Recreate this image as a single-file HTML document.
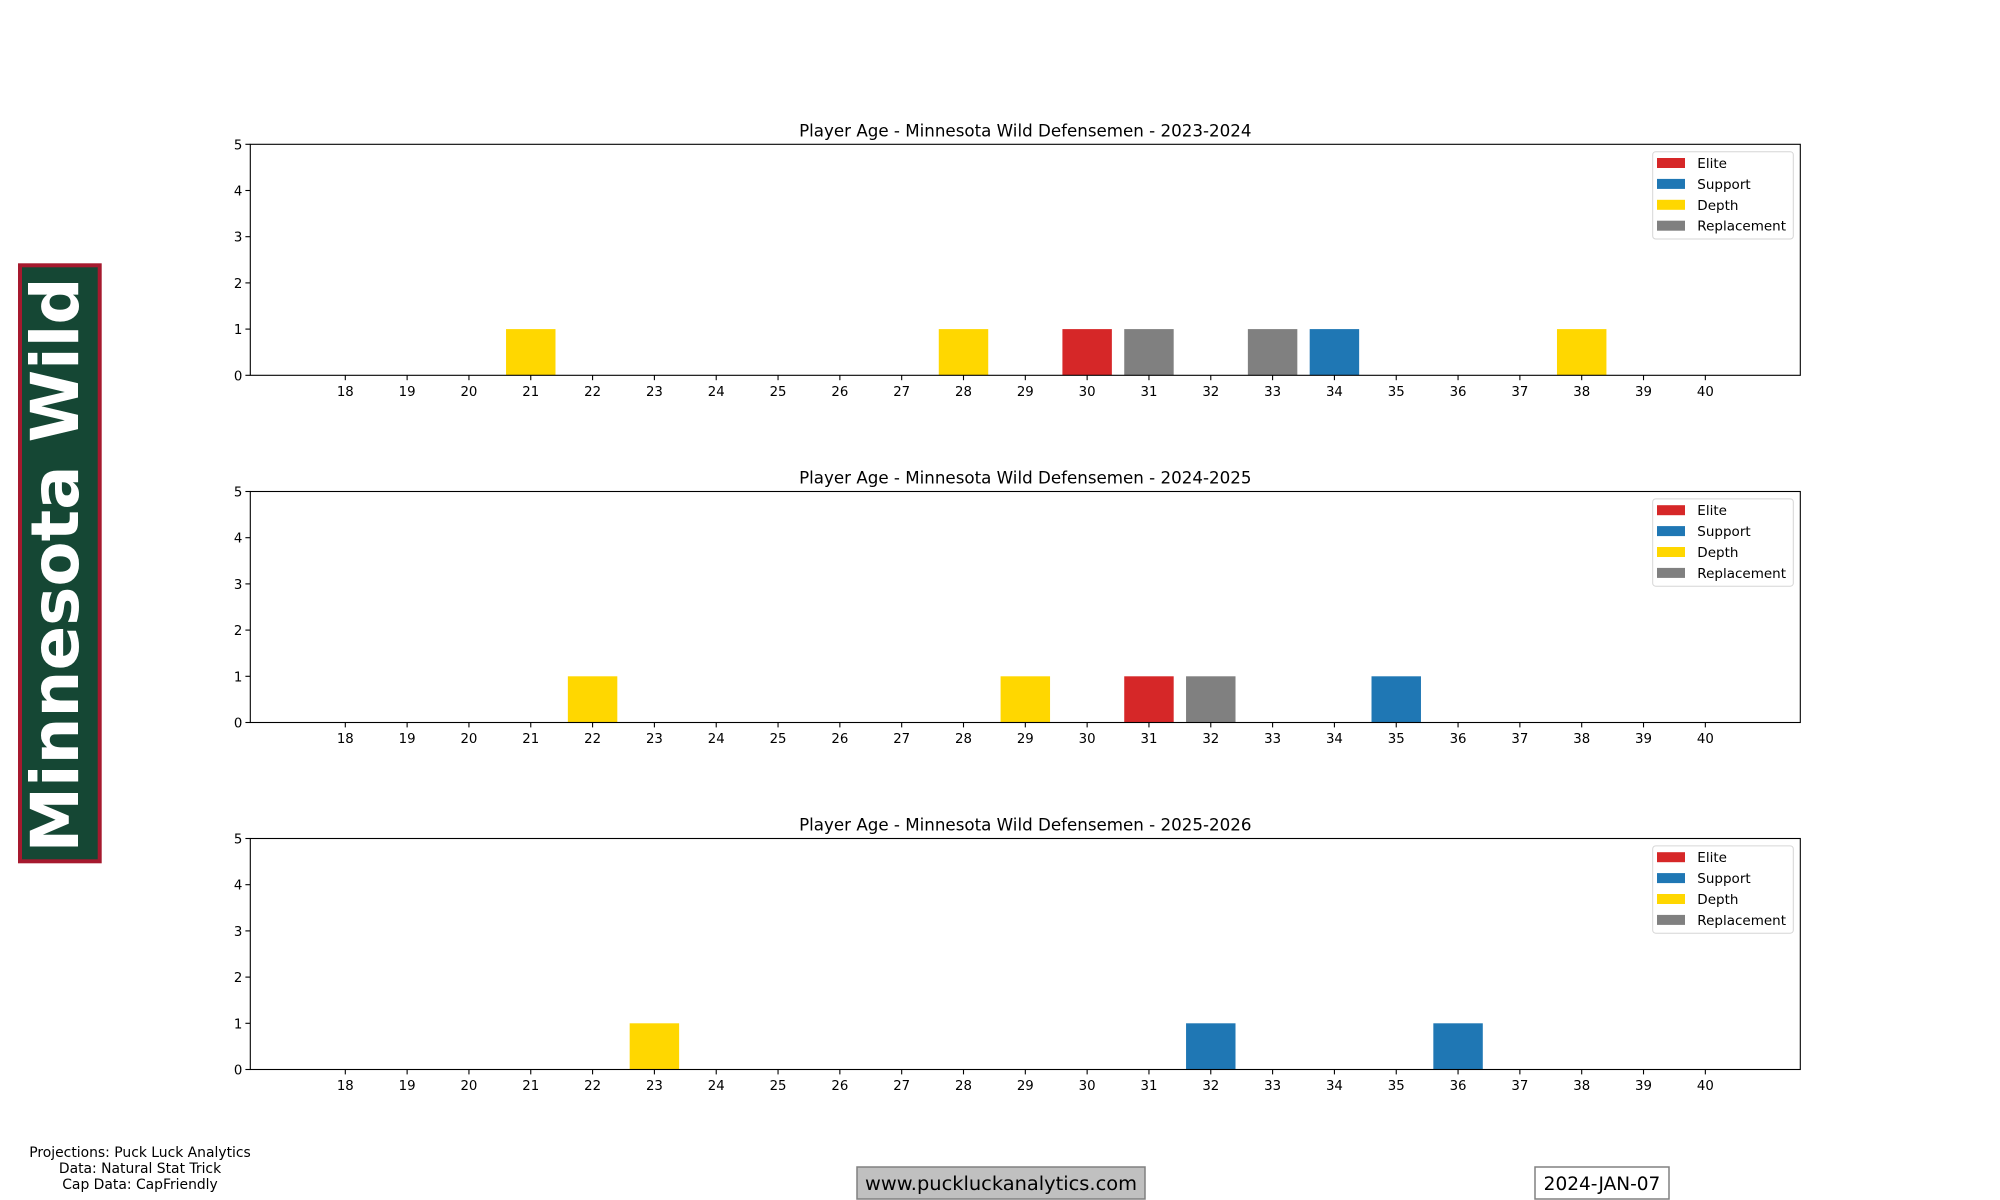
<!DOCTYPE html>
<html><head><meta charset="utf-8"><style>
html,body{margin:0;padding:0;background:#fff;}
svg{display:block;font-family:"DejaVu Sans","Liberation Sans",sans-serif;}
</style></head><body>
<svg width="2000" height="1200" viewBox="0 0 2000 1200" xmlns="http://www.w3.org/2000/svg">
<rect width="2000" height="1200" fill="#fff"/>
<rect x="20" y="265.3" width="79.7" height="596" fill="#154734" stroke="#a6192e" stroke-width="4"/>
<text x="78" y="565" transform="rotate(-90 78 565)" text-anchor="middle" font-size="66" font-weight="bold" fill="#fff" textLength="575" lengthAdjust="spacingAndGlyphs">Minnesota Wild</text>
<g id="charts"></g>
<g font-size="13.9" fill="#000" text-anchor="middle">
<text x="140" y="1157">Projections: Puck Luck Analytics</text>
<text x="140" y="1173">Data: Natural Stat Trick</text>
<text x="140" y="1189">Cap Data: CapFriendly</text>
</g>
<rect x="857" y="1167" width="288" height="32" fill="#c0c0c0" stroke="#808080" stroke-width="1.5"/>
<text x="1001" y="1190" font-size="18.5" text-anchor="middle" textLength="272" lengthAdjust="spacingAndGlyphs">www.puckluckanalytics.com</text>
<rect x="1535" y="1167" width="134" height="32" fill="#fff" stroke="#808080" stroke-width="1.5"/>
<text x="1602" y="1190" font-size="18.5" text-anchor="middle">2024-JAN-07</text>
</svg>
<script>
(function(){
var ns="http://www.w3.org/2000/svg";
var g=document.getElementById("charts");
var C={R:"#d62728",B:"#1f77b4",Y:"#ffd700",G:"#808080"};
var charts=[
 {top:144.3,title:"Player Age - Minnesota Wild Defensemen - 2023-2024",bars:[[21,"Y"],[28,"Y"],[30,"R"],[31,"G"],[33,"G"],[34,"B"],[38,"Y"]]},
 {top:491.5,title:"Player Age - Minnesota Wild Defensemen - 2024-2025",bars:[[22,"Y"],[29,"Y"],[31,"R"],[32,"G"],[35,"B"]]},
 {top:838.5,title:"Player Age - Minnesota Wild Defensemen - 2025-2026",bars:[[23,"Y"],[32,"B"],[36,"B"]]}
];
var L=250.3,R=1800.3,H=231,step=61.82,x18=345.3;
function el(t,a,txt){var e=document.createElementNS(ns,t);for(var k in a)e.setAttribute(k,a[k]);if(txt!=null)e.textContent=txt;g.appendChild(e);return e;}
charts.forEach(function(c){
 var T=c.top,B=T+H,u=H/5;
 c.bars.forEach(function(b){var cx=x18+(b[0]-18)*step;el("rect",{x:cx-step*0.4,y:B-u,width:step*0.8,height:u,fill:C[b[1]]});});
 el("rect",{x:L,y:T,width:R-L,height:H,fill:"none",stroke:"#000","stroke-width":1.1});
 el("text",{x:(L+R)/2,y:T-8,"font-size":16.7,"text-anchor":"middle"},c.title);
 for(var i=0;i<=5;i++){var y=B-i*u;el("line",{x1:L-4.9,x2:L,y1:y,y2:y,stroke:"#000","stroke-width":1.1});el("text",{x:L-8,y:y+5,"font-size":13.3,"text-anchor":"end"},String(i));}
 for(var a=18;a<=40;a++){var x=x18+(a-18)*step;el("line",{x1:x,x2:x,y1:B,y2:B+4.9,stroke:"#000","stroke-width":1.1});el("text",{x:x,y:B+20.7,"font-size":13.3,"text-anchor":"middle"},String(a));}
 var ly=T+7.4;
 el("rect",{x:1652.7,y:ly,width:140.6,height:87.3,rx:3,fill:"#fff","fill-opacity":0.8,stroke:"#d6d6d6","stroke-width":1});
 [["Elite","R"],["Support","B"],["Depth","Y"],["Replacement","G"]].forEach(function(e,k){
  var cy=T+18.7+k*20.9;
  el("rect",{x:1657,y:cy-5,width:28,height:10,fill:C[e[1]]});
  el("text",{x:1697.3,y:cy+5,"font-size":13.5},e[0]);
 });
});
})();
</script>
</body></html>
